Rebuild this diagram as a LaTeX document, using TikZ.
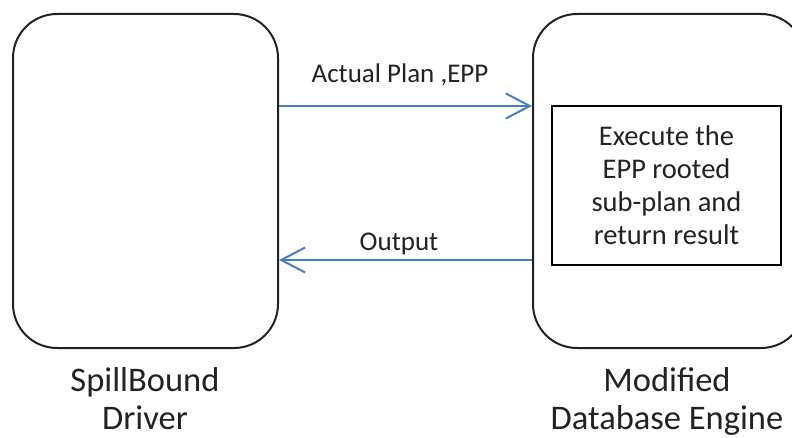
\documentclass[tikz,border=0pt]{standalone}
\usepackage{fontspec}
\setmainfont{Carlito}
\usetikzlibrary{arrows.meta}
\definecolor{ink}{HTML}{222222}
\definecolor{linkblue}{HTML}{4A7EBB}
\begin{document}
\begin{tikzpicture}[x=1pt,y=1pt,
  panel/.style={draw=ink, line width=2pt, rounded corners=44pt, inner sep=0pt,
    minimum height=334pt},
  taskbox/.style={draw=black, line width=2pt, inner sep=0pt, align=center,
    text=ink, font=\fontsize{28.5}{33}\selectfont},
  flow/.style={draw=linkblue, line width=2pt,
    -{Straight Barb[length=24pt,width=25pt]}},
  lbl/.style={text=ink, inner sep=0pt, anchor=base, font=\fontsize{27}{32}\selectfont},
  caption/.style={text=ink, inner sep=0pt, anchor=base, font=\fontsize{34.5}{40}\selectfont}]
\useasboundingbox (0,0) rectangle (792,437);
\clip (0,0) rectangle (792,437);

% the two components
\node[panel, minimum width=265pt] (drv) at (145.5,256) {};
\node[panel, minimum width=272pt] (eng) at (669,256) {};

% work done inside the engine
\node[taskbox, minimum width=229pt, minimum height=159pt] (task) at (666.5,251.5)
  {Execute the\\EPP rooted\\sub-plan and\\return result};

% messages between driver and engine
\draw[flow] ([yshift=75pt]drv.east) -- ([yshift=75pt]eng.west);
\draw[flow] ([yshift=-79pt]eng.west) -- ([yshift=-79pt]drv.east);
\node[lbl] (plan) at (400,354) {Actual Plan ,EPP};
\node[lbl] (out) at (399,187) {Output};

% captions under the components
\node[caption] (drvcap1) at (145,46) {SpillBound};
\node[caption] (drvcap2) at (145,8) {Driver};
\node[caption] (engcap1) at (667,46) {Modified};
\node[caption] (engcap2) at (667,8) {Database Engine};
\end{tikzpicture}
\end{document}
